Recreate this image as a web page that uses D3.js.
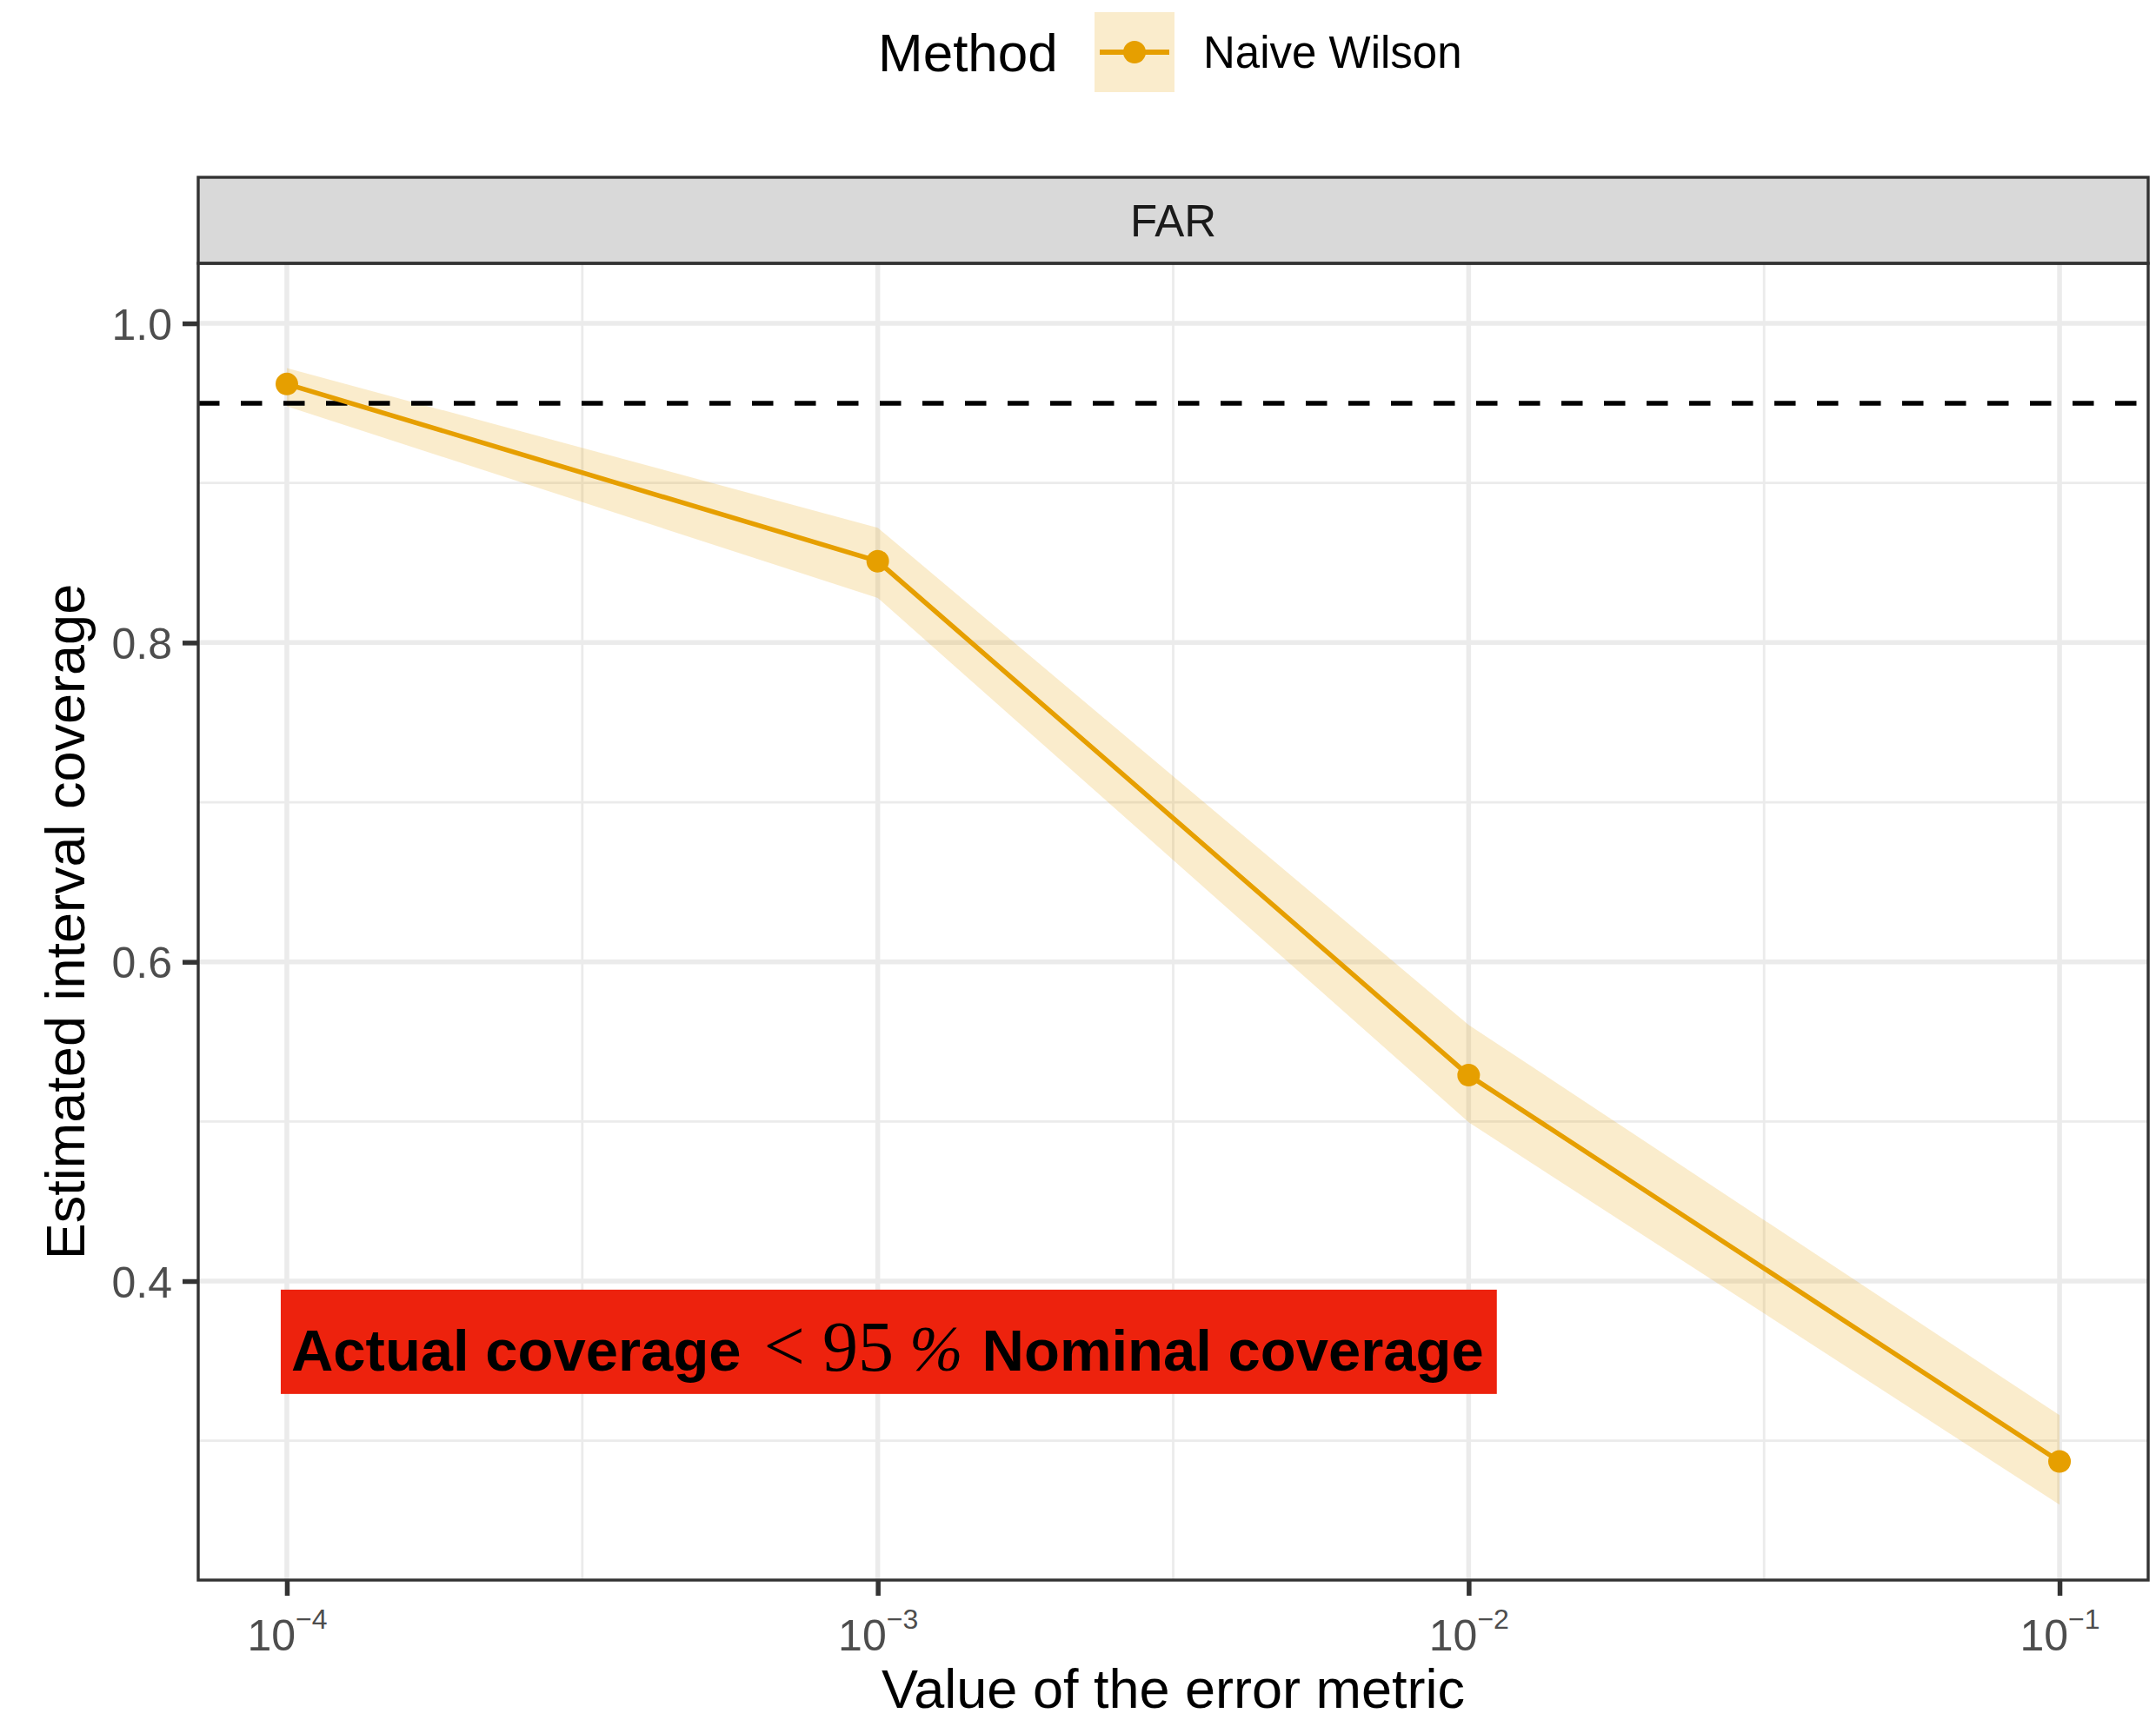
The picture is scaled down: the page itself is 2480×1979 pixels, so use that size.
<!DOCTYPE html>
<html>
<head>
<meta charset="utf-8">
<script src="https://cdn.jsdelivr.net/npm/d3@7"></script>
<style>
  html, body { margin: 0; padding: 0; background: #ffffff; }
  svg { display: block; }
</style>
</head>
<body>
<script>
// ---------------- data ----------------
const errorMetric = [1e-4, 1e-3, 1e-2, 1e-1];
const coverage    = [0.962, 0.851, 0.529, 0.287];
const lowerBound  = [0.948, 0.828, 0.4995, 0.260];
const upperBound  = [0.972, 0.872, 0.5605, 0.316];
const nominal = 0.95;
const xTickValues = [1e-4, 1e-3, 1e-2, 1e-1];
const xTickExponents = ["\u22124", "\u22123", "\u22122", "\u22121"];
const yTickValues = [0.4, 0.6, 0.8, 1.0];
const yMinorValues = [0.3, 0.5, 0.7, 0.9];
const xMinorValues = [Math.pow(10, -3.5), Math.pow(10, -2.5), Math.pow(10, -1.5)];
const seriesName = "Naive Wilson";
const panelLabel = "FAR";

// ---------------- layout ----------------
const W = 2480, H = 1979;
const panel = { left: 228, right: 2471, top: 303, bottom: 1818 };
const stripTop = 204;
const orange = "#E69F00";
const font = "'Liberation Sans', Arial, Helvetica, sans-serif";
const serif = "'Liberation Serif', 'DejaVu Serif', serif";

const svg = d3.select("body").append("svg")
  .attr("width", W).attr("height", H)
  .attr("viewBox", `0 0 ${W} ${H}`);
svg.append("rect").attr("width", W).attr("height", H).attr("fill", "#fff");

const x = d3.scaleLog()
  .domain([Math.pow(10, -4.15), Math.pow(10, -0.85)])
  .range([panel.left, panel.right]);
const y = d3.scaleLinear()
  .domain([0.2127, 1.0376])
  .range([panel.bottom, panel.top]);

const data = errorMetric.map((v, i) => ({ x: v, y: coverage[i], lo: lowerBound[i], hi: upperBound[i] }));

// ---------------- grid ----------------
const grid = svg.append("g");
grid.selectAll(".ymin").data(yMinorValues).enter().append("line")
  .attr("x1", panel.left).attr("x2", panel.right)
  .attr("y1", d => y(d)).attr("y2", d => y(d))
  .attr("stroke", "#EBEBEB").attr("stroke-width", 2.8);
grid.selectAll(".xmin").data(xMinorValues).enter().append("line")
  .attr("y1", panel.top).attr("y2", panel.bottom)
  .attr("x1", d => x(d)).attr("x2", d => x(d))
  .attr("stroke", "#EBEBEB").attr("stroke-width", 2.8);
grid.selectAll(".ymaj").data(yTickValues).enter().append("line")
  .attr("x1", panel.left).attr("x2", panel.right)
  .attr("y1", d => y(d)).attr("y2", d => y(d))
  .attr("stroke", "#EBEBEB").attr("stroke-width", 5.5);
grid.selectAll(".xmaj").data(xTickValues).enter().append("line")
  .attr("y1", panel.top).attr("y2", panel.bottom)
  .attr("x1", d => x(d)).attr("x2", d => x(d))
  .attr("stroke", "#EBEBEB").attr("stroke-width", 5.5);

// ---------------- ribbon ----------------
const area = d3.area().x(d => x(d.x)).y0(d => y(d.lo)).y1(d => y(d.hi));
svg.append("path").datum(data).attr("d", area)
  .attr("fill", orange).attr("fill-opacity", 0.2);

// ---------------- nominal line ----------------
svg.append("line")
  .attr("x1", panel.left).attr("x2", panel.right)
  .attr("y1", y(nominal)).attr("y2", y(nominal))
  .attr("stroke", "#000").attr("stroke-width", 5.5)
  .attr("stroke-dasharray", "24.5 24.5");

// ---------------- line + points ----------------
const line = d3.line().x(d => x(d.x)).y(d => y(d.y));
svg.append("path").datum(data).attr("d", line)
  .attr("fill", "none").attr("stroke", orange).attr("stroke-width", 5.5)
  .attr("stroke-linejoin", "round");
svg.selectAll(".pt").data(data).enter().append("circle")
  .attr("cx", d => x(d.x)).attr("cy", d => y(d.y)).attr("r", 13)
  .attr("fill", orange);

// ---------------- annotation label ----------------
const annX = 1e-4, annY = 0.344;
const ann = svg.append("g");
const annRect = ann.append("rect").attr("fill", "#ED220D");
const annText = ann.append("text")
  .attr("x", x(annX) + 5).attr("y", y(annY))
  .attr("font-family", font).attr("font-size", 67).attr("font-weight", "bold")
  .attr("fill", "#000");
annText.append("tspan").text("Actual coverage");
annText.append("tspan").attr("dx", 26).attr("font-family", serif).attr("font-weight", "normal")
  .attr("font-size", 84).text("<");
annText.append("tspan").attr("dx", 20).attr("font-family", serif).attr("font-weight", "normal")
  .attr("font-size", 82).text("95");
annText.append("tspan").attr("dx", 18).attr("font-family", serif).attr("font-weight", "normal")
  .attr("font-style", "italic").attr("font-size", 74).text("%");
annText.append("tspan").attr("dx", 22).text("Nominal coverage");
const bb = annText.node().getBBox();
annRect.attr("x", x(annX) - 7).attr("width", bb.x + bb.width - x(annX) + 7 + 15)
  .attr("y", y(annY) - 93).attr("height", 120);

// ---------------- strip ----------------
svg.append("rect")
  .attr("x", panel.left).attr("y", stripTop)
  .attr("width", panel.right - panel.left).attr("height", panel.top - stripTop)
  .attr("fill", "#D9D9D9").attr("stroke", "#333333").attr("stroke-width", 3.4);
svg.append("text")
  .attr("x", (panel.left + panel.right) / 2).attr("y", 272)
  .attr("text-anchor", "middle")
  .attr("font-family", font).attr("font-size", 51).attr("fill", "#1A1A1A")
  .text(panelLabel);

// ---------------- panel border ----------------
svg.append("rect")
  .attr("x", panel.left).attr("y", panel.top)
  .attr("width", panel.right - panel.left).attr("height", panel.bottom - panel.top)
  .attr("fill", "none").attr("stroke", "#333333").attr("stroke-width", 3.4);

// ---------------- axes ----------------
const xAxis = d3.axisBottom(x).tickValues(xTickValues).tickSize(18).tickFormat("");
const gx = svg.append("g").attr("transform", `translate(0,${panel.bottom})`).call(xAxis);
gx.select(".domain").remove();
gx.selectAll(".tick line").attr("stroke", "#333333").attr("stroke-width", 5.5);
gx.selectAll(".tick").each(function (d, i) {
  const t = d3.select(this).append("text")
    .attr("x", 0).attr("y", 81)
    .attr("text-anchor", "middle")
    .attr("font-family", font).attr("font-size", 50).attr("fill", "#4D4D4D");
  t.append("tspan").text("10");
  t.append("tspan").attr("dy", -25).attr("font-size", 32).text(xTickExponents[i]);
});

const yAxis = d3.axisLeft(y).tickValues(yTickValues).tickSize(18).tickFormat(d3.format(".1f"));
const gy = svg.append("g").attr("transform", `translate(${panel.left},0)`).call(yAxis);
gy.select(".domain").remove();
gy.selectAll(".tick line").attr("stroke", "#333333").attr("stroke-width", 5.5);
gy.selectAll(".tick text")
  .attr("x", -30).attr("dy", "0.36em")
  .attr("font-family", font).attr("font-size", 50).attr("fill", "#4D4D4D");

// ---------------- axis titles ----------------
svg.append("text")
  .attr("x", (panel.left + panel.right) / 2).attr("y", 1965)
  .attr("text-anchor", "middle")
  .attr("font-family", font).attr("font-size", 63).attr("fill", "#000")
  .text("Value of the error metric");
svg.append("text")
  .attr("transform", `translate(97,${(panel.top + panel.bottom) / 2}) rotate(-90)`)
  .attr("text-anchor", "middle")
  .attr("font-family", font).attr("font-size", 63).attr("fill", "#000")
  .text("Estimated interval coverage");

// ---------------- legend ----------------
const lg = svg.append("g");
lg.append("text").attr("x", 1010).attr("y", 82)
  .attr("font-family", font).attr("font-size", 62).attr("fill", "#000")
  .text("Method");
lg.append("rect").attr("x", 1259).attr("y", 14).attr("width", 92).attr("height", 92)
  .attr("fill", orange).attr("fill-opacity", 0.2);
lg.append("line").attr("x1", 1265).attr("x2", 1345).attr("y1", 60).attr("y2", 60)
  .attr("stroke", orange).attr("stroke-width", 6);
lg.append("circle").attr("cx", 1305).attr("cy", 60).attr("r", 13).attr("fill", orange);
lg.append("text").attr("x", 1384).attr("y", 78)
  .attr("font-family", font).attr("font-size", 51).attr("fill", "#000")
  .text(seriesName);
</script>
</body>
</html>
